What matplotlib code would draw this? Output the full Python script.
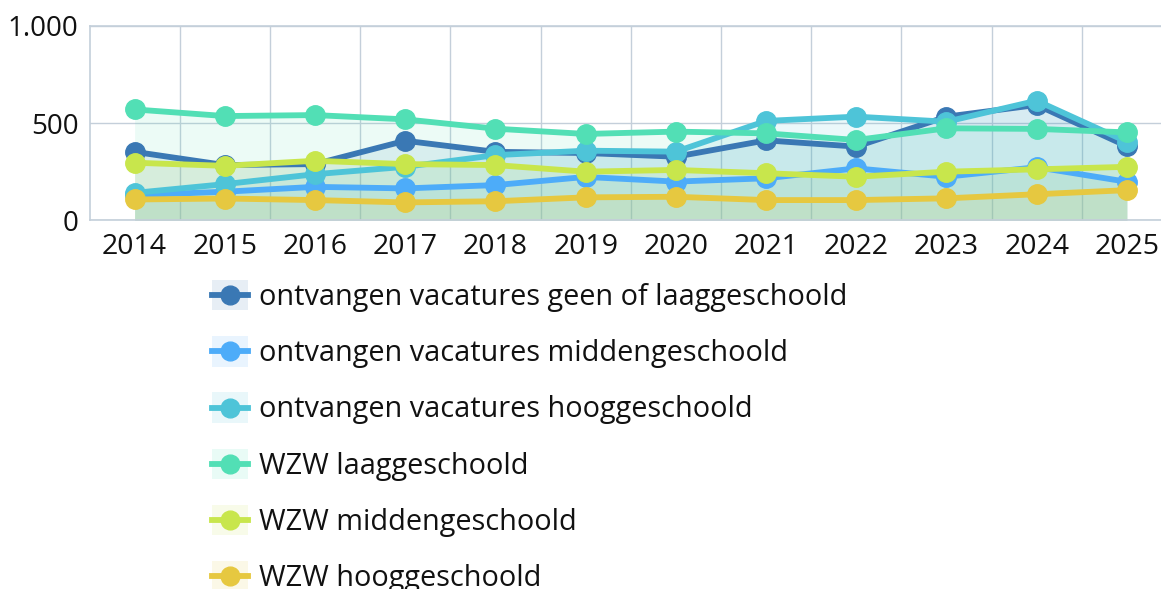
import matplotlib
matplotlib.use("Agg")
import matplotlib.pyplot as plt
from matplotlib.lines import Line2D
from matplotlib.patches import Rectangle
from matplotlib.legend_handler import HandlerBase
from matplotlib.ticker import FuncFormatter

plt.rcParams['font.family'] = ['Open Sans', 'DejaVu Sans']

years = [2014, 2015, 2016, 2017, 2018, 2019, 2020, 2021, 2022, 2023, 2024, 2025]

vac_laag = [353, 285, 290, 410, 353, 347, 328, 412, 380, 534, 594, 382]
vac_midden = [130, 148, 173, 165, 182, 224, 200, 217, 268, 225, 274, 199]
vac_hoog = [142, 187, 238, 276, 336, 359, 354, 512, 534, 508, 616, 405]
wzw_laag = [571, 537, 542, 520, 472, 445, 457, 448, 414, 474, 471, 453]
wzw_midden = [297, 281, 307, 290, 285, 251, 260, 243, 225, 251, 263, 276]
wzw_hoog = [108, 113, 105, 93, 99, 119, 122, 105, 105, 114, 135, 156]

labels = [
    "ontvangen vacatures geen of laaggeschoold",
    "ontvangen vacatures middengeschoold",
    "ontvangen vacatures hooggeschoold",
    "WZW laaggeschoold",
    "WZW middengeschoold",
    "WZW hooggeschoold",
]
series = [vac_laag, vac_midden, vac_hoog, wzw_laag, wzw_midden, wzw_hoog]
colors = ["#3a78b4", "#4dacf9", "#4ec4d8", "#52dfb5", "#c8e64c", "#e6c840"]


class SquareLine(HandlerBase):
    # light square behind a short line with a dot in the middle
    def create_artists(self, legend, orig, xd, yd, width, height, fontsize, trans):
        col = orig.get_color()
        x0, y0 = -xd, -yd
        yc = y0 + height / 2
        rect = Rectangle((x0, y0), width, height, facecolor=col, alpha=0.12,
                         lw=0, transform=trans)
        line = Line2D([x0, x0 + width], [yc, yc], color=col, lw=4.2, transform=trans)
        dot = Line2D([x0 + width / 2], [yc], color=col, marker='o', ms=13.5,
                     ls='', transform=trans)
        return [rect, line, dot]


W, H = 1161, 589
fig = plt.figure(figsize=(W / 100, H / 100), dpi=100)

# plot area in pixels (right edge runs past the picture, like the original)
left, right, top, bottom = 89.5, 1172, 26, 220.5
ax = fig.add_axes([left / W, 1 - bottom / H, (right - left) / W, (bottom - top) / H])

x = list(range(len(years)))
handles = []
for vals, col in zip(series, colors):
    ax.fill_between(x, vals, 0, color=col, alpha=0.11, lw=0, zorder=1)
    ax.plot(x, vals, color=col, lw=4.2, marker='o', ms=14, zorder=3, solid_capstyle='round')
    handles.append(Line2D([], [], color=col))

ax.set_xlim(-0.5, len(years) - 0.5)
ax.set_ylim(0, 1000)
ax.set_yticks([0, 500, 1000])
ax.yaxis.set_major_formatter(FuncFormatter(lambda v, p: f"{int(v):,}".replace(",", ".")))
ax.set_xticks(x)
ax.set_xticklabels([str(y) for y in years])
ax.set_xticks([i + 0.5 for i in x[:-1]], minor=True)
ax.tick_params(axis='both', which='both', length=0, labelsize=20.5, colors='#111111')
ax.tick_params(axis='y', labelsize=20)
ax.tick_params(axis='x', pad=9)
ax.tick_params(axis='y', pad=8)
ax.grid(True, axis='y', which='major', color='#c4cfda', lw=1)
ax.grid(True, axis='x', which='minor', color='#c4cfda', lw=1)
ax.set_axisbelow(True)
for s in ['top', 'bottom', 'left']:
    ax.spines[s].set_color('#c4cfda')
    ax.spines[s].set_linewidth(1.2)
ax.spines['right'].set_visible(False)

fig.legend(handles, labels, handler_map={Line2D: SquareLine()},
           loc='upper left', bbox_to_anchor=(212 / W, 1 - 280 / H),
           frameon=False, fontsize=20.8, handlelength=1.245, handleheight=1.245,
           handletextpad=0.38, labelspacing=0.84, borderpad=0, borderaxespad=0,
           labelcolor='#111111')

fig.savefig("out.png", dpi=100)
